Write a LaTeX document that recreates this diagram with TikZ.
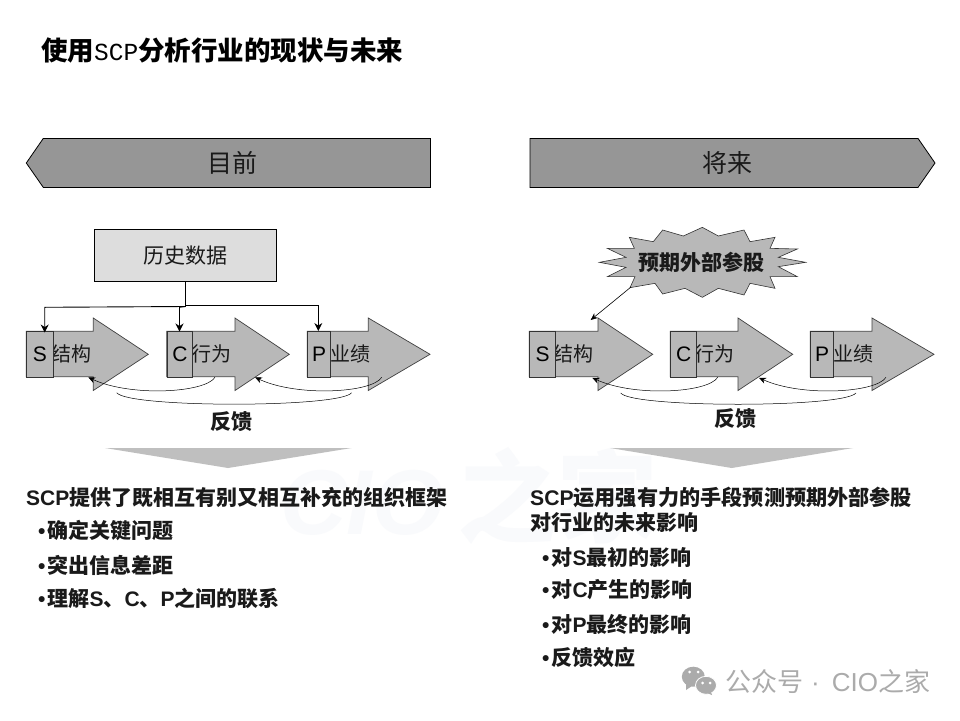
\documentclass[tikz,border=0pt]{standalone}
\usepackage{fontspec}
\setmainfont{Noto Sans CJK SC}
\newfontfamily\latinreg{Liberation Sans}
\newfontfamily\latinbold{Liberation Sans Bold}
\newfontfamily\titlelatin{Liberation Mono}
\newcommand{\fs}[1]{\fontsize{#1}{#1}\selectfont}
\usetikzlibrary{arrows.meta}
\definecolor{bannergray}{HTML}{969696}
\definecolor{shapegray}{HTML}{B8B8B8}
\definecolor{boxgray}{HTML}{DDDDDD}
\definecolor{funnelgray}{HTML}{BFBFBF}
\definecolor{markgray}{HTML}{ABABAB}
\definecolor{inkc}{HTML}{1A1A1A}
\definecolor{ghost}{HTML}{F9FAFC}
\tikzset{
  x=1pt,y=-1pt,
  banner/.style={draw=black,line width=0.8pt,fill=bannergray},
  bigarrow/.style={draw=black!75,line width=0.7pt,fill=shapegray},
  letterbox/.style={draw=black!80,line width=0.7pt,fill=shapegray,inner sep=0pt,anchor=north west,text=black},
  lbl/.style={inner sep=0pt,text=inkc},
  feed/.style={draw=black,line width=0.5pt},
  feedarrow/.style={feed,-{Stealth[length=7pt,width=6pt]}},
  drop/.style={draw=black,line width=0.9pt,-{Stealth[length=8pt,width=8pt]}},
  fun/.style={fill=funnelgray,draw=none},
  head/.style={lbl,font=\fs{25}},
  body/.style={inner sep=0pt,anchor=west,font=\fs{21}\bfseries,text=inkc},
}
\newcommand{\latr}[1]{{\latinreg #1}}
\newcommand{\latb}[1]{{\latinbold #1}}
\newcommand{\bul}{{\latinbold •}\hspace{2pt}}
% args: x left, neck x, tip x, name prefix, letter, box width, label, label centre
\newcommand{\scpblock}[8]{
  \path[bigarrow] (#1,331.3) -- (#2,331.3) -- (#2,318) -- (#3,354.3) -- (#2,390.5) -- (#2,376.7) -- (#1,376.7) -- cycle;
  \node[lbl,font=\fs{20}] (#4label) at (#8,354) {#7};
  \node[letterbox,minimum width=#6pt,minimum height=45.4pt,font=\fs{21}\latinreg] (#4) at (#1,331.3) {#5};
}
\begin{document}
\begin{tikzpicture}
\useasboundingbox (0,0) rectangle (960,720);
\fill[white] (0,0) rectangle (960,720);
\node[inner sep=0pt,anchor=west,font=\fs{100}\bfseries,text=ghost] (ghostmark) at (280,496) {{\fs{92}\latinbold\itshape CIO}\hspace{14pt}之家};

\node[inner sep=0pt,anchor=west,font=\fs{26.5}\bfseries,text=black] (title) at (41,50) {使用{\titlelatin\mdseries\fs{24.5}SCP}分析行业的现状与未来};

% banners
\draw[banner] (26.3,163) -- (43.3,138.4) -- (430.4,138.4) -- (430.4,187.4) -- (43.3,187.4) -- cycle;
\node[head] (now) at (232.5,163) {目前};
\draw[banner] (530,138.4) -- (918,138.4) -- (935,163) -- (918,187.4) -- (530,187.4) -- cycle;
\node[head] (future) at (727,163) {将来};

% left flow
\scpblock{26.3}{93.3}{148.3}{ls}{S}{26.4}{结构}{71}
\scpblock{166.7}{235}{289.3}{lc}{C}{25.6}{行为}{211}
\scpblock{307.3}{368.3}{430}{lp}{P}{23}{业绩}{350}

\node[draw=black,line width=0.8pt,fill=boxgray,minimum width=181.6pt,minimum height=52pt,inner sep=0pt,font=\fs{21},text=inkc] (hist) at (185.2,255.3) {历史数据};

\coordinate (j) at (185.4,306.5);
\coordinate (ls-in) at (44.7,332.5);
\coordinate (lc-in) at (179.5,331.5);
\coordinate (lp-in) at (318.3,331);
\draw[line width=1.2pt] (hist.south -| j) -- (j);
\draw[drop] (j) -- (44.7,307.3) -- (ls-in);
\draw[drop] (j) -- (179.5,307.3) -- (lc-in);
\draw[drop] (j) -- (185.4,305) -- (318.3,305) -- (lp-in);

\coordinate (f1a) at (215,377.3);
\coordinate (f1b) at (88.3,377.3);
\coordinate (f2a) at (381.7,377.3);
\coordinate (f2b) at (255,377.3);
\coordinate (f3a) at (116.7,392.7);
\coordinate (f3b) at (351.7,392.7);
\draw[feedarrow] (f1a) .. controls (205,393) and (130,397) .. (f1b);
\draw[feedarrow] (f2a) .. controls (372,393) and (297,397) .. (f2b);
\draw[feed] (f3a) .. controls (128,408) and (340,408) .. (f3b);
\node[lbl,font=\fs{21}\bfseries] (fbl) at (231,422) {反馈};

\fill[fun] (105,448) -- (351.7,448) -- (228,468) -- cycle;

% right flow
\scpblock{529.3}{598}{652.7}{rs}{S}{26}{结构}{573}
\scpblock{670.3}{738}{792.7}{rc}{C}{26}{行为}{714}
\scpblock{810.3}{872}{934}{rp}{P}{23}{业绩}{853}

\begin{scope}[shift={(590,220)},x=0.33333pt,y=-0.33333pt]
\path[draw=black!80,line width=0.6pt,fill=shapegray]
 (28,127) -- (108,112) -- (52,85) -- (133,85) -- (118,52) -- (190,65) -- (218,30) -- (280,48) -- (337,22) -- (385,48) -- (462,30) -- (480,65) -- (555,52) -- (540,85) -- (622,87) -- (565,112) -- (647,127) -- (565,140) -- (622,170) -- (540,170) -- (555,205) -- (480,190) -- (462,225) -- (385,205) -- (337,232) -- (285,205) -- (218,222) -- (195,190) -- (120,203) -- (135,170) -- (52,170) -- (108,142) -- cycle;
\end{scope}
\node[lbl,font=\fs{21}\bfseries] (star) at (701.5,262.5) {预期外部参股};
\coordinate (starout) at (631,287);
\coordinate (rs-in) at (590.7,320);
\draw[draw=black,line width=0.6pt,-{Stealth[length=7pt,width=6pt]}] (starout) -- (rs-in);

\coordinate (g1a) at (717.7,377.3);
\coordinate (g1b) at (592.3,377.8);
\coordinate (g2a) at (886,377.3);
\coordinate (g2b) at (759,377.8);
\coordinate (g3a) at (620.7,393);
\coordinate (g3b) at (856,393);
\draw[feedarrow] (g1a) .. controls (708,393) and (634,397) .. (g1b);
\draw[feedarrow] (g2a) .. controls (876,393) and (801,397) .. (g2b);
\draw[feed] (g3a) .. controls (632,408) and (844,408) .. (g3b);
\node[lbl,font=\fs{21}\bfseries] (fbr) at (735,419) {反馈};

\fill[fun] (610,448) -- (853,448) -- (731.7,468) -- cycle;

% left text
\node[body] (t1) at (26,497) {\latb{SCP}提供了既相互有别又相互补充的组织框架};
\node[body] (t2) at (38,531) {\bul 确定关键问题};
\node[body] (t3) at (38,565) {\bul 突出信息差距};
\node[body] (t4) at (38,598) {\bul 理解\latb{S}、\latb{C}、\latb{P}之间的联系};

% right text
\node[body,font=\fs{21.15}\bfseries] (u1) at (530,497) {\latb{SCP}运用强有力的手段预测预期外部参股};
\node[body] (u2) at (530,523) {对行业的未来影响};
\node[body] (u3) at (542,557) {\bul 对\latb{S}最初的影响};
\node[body] (u4) at (542,590) {\bul 对\latb{C}产生的影响};
\node[body] (u5) at (542,624) {\bul 对\latb{P}最终的影响};
\node[body] (u6) at (542,657) {\bul 反馈效应};

% mark
\fill[markgray] (693.3,676.7) ellipse [x radius=11.5,y radius=10];
\fill[markgray] (686,684) -- (686,690) -- (692,686) -- cycle;
\fill[markgray,draw=white,line width=0.8pt] (706,685.3) ellipse [x radius=10.5,y radius=9];
\fill[markgray] (711,692) -- (712,695) -- (707,693) -- cycle;
\foreach \p in {(689.5,672),(698,672),(702.5,683),(710,683)} \fill[white] \p circle (1.5);
\node[inner sep=0pt,anchor=west,font=\fs{26},text=markgray] (mark) at (725,682) {公众号\hspace{8pt}\latr{·}\hspace{12pt}\latr{CIO}之家};
\end{tikzpicture}
\end{document}
